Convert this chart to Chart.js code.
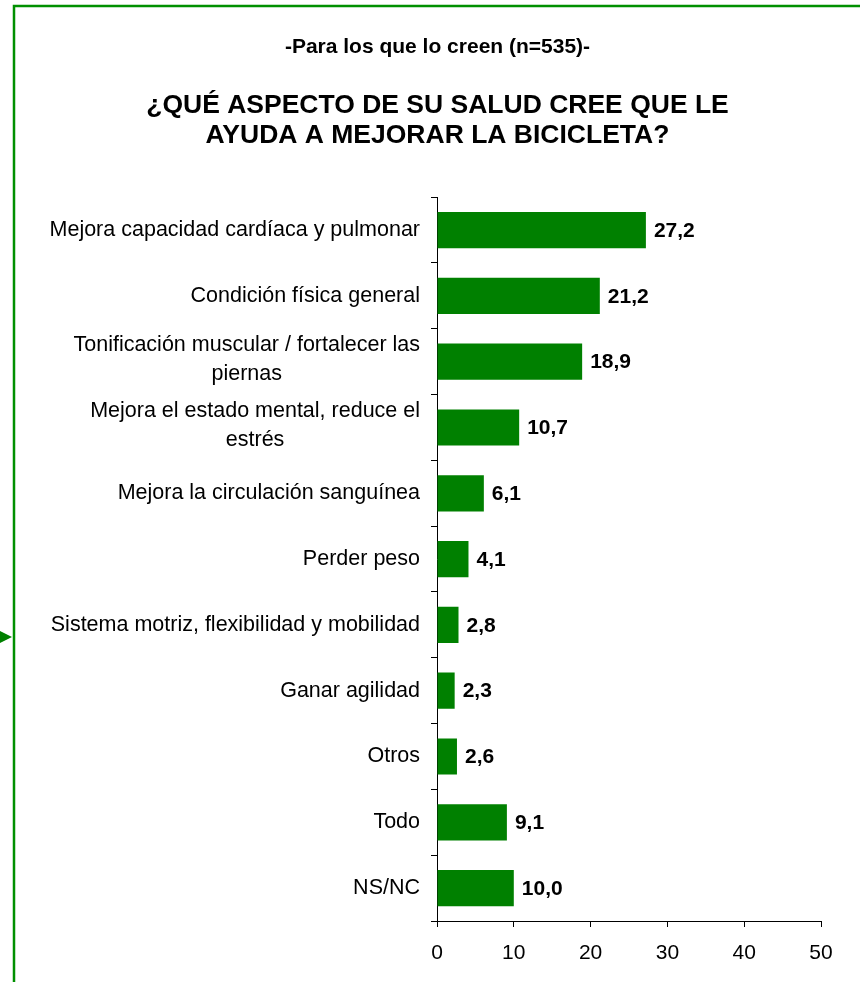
<!DOCTYPE html>
<html>
<head>
<meta charset="utf-8">
<script src="https://cdn.jsdelivr.net/npm/chart.js@4"></script>
<style>
  html, body { margin: 0; padding: 0; background: #fff; }
  #wrap { width: 860px; height: 982px; position: relative; }
</style>
</head>
<body>
<div id="wrap"><canvas id="grafico" width="860" height="982"></canvas></div>
<script>
// datos
const categorias = [
    "Mejora capacidad cardíaca y pulmonar",
    "Condición física general",
    ["Tonificación muscular / fortalecer las", "piernas"],
    ["Mejora el estado mental, reduce el", "estrés"],
    "Mejora la circulación sanguínea",
    "Perder peso",
    "Sistema motriz, flexibilidad y mobilidad",
    "Ganar agilidad",
    "Otros",
    "Todo",
    "NS/NC"
];
const porcentajes = [27.2, 21.2, 18.9, 10.7, 6.1, 4.1, 2.8, 2.3, 2.6, 9.1, 10.0];
const ticksX = [0, 10, 20, 30, 40, 50];

const FUENTE = "'Liberation Sans', Arial, sans-serif";
const VERDE = '#008000';

// marco verde y flecha del original
const marco = {
    id: 'marco',
    beforeDraw(chart) {
        const c = chart.ctx;
        c.save();
        c.strokeStyle = '#009000';
        c.lineWidth = 2.5;
        c.beginPath();
        c.moveTo(chart.width, 6);
        c.lineTo(14, 6);
        c.lineTo(14, chart.height);
        c.stroke();
        c.fillStyle = VERDE;
        c.beginPath();
        c.moveTo(0, 631);
        c.lineTo(12, 637);
        c.lineTo(0, 643);
        c.closePath();
        c.fill();
        c.restore();
    }
};

// etiquetas de categoría: bloque alineado a la derecha, líneas centradas
const categoriasEje = {
    id: 'categoriasEje',
    afterDraw(chart) {
        const c = chart.ctx;
        const s = chart.scales.y;
        c.save();
        c.font = "21.5px " + FUENTE;
        c.fillStyle = '#000';
        c.textAlign = 'center';
        c.textBaseline = 'middle';
        categorias.forEach((lab, i) => {
            const lineas = Array.isArray(lab) ? lab : [lab];
            const ancho = Math.max(...lineas.map(l => c.measureText(l).width));
            const cx = s.right - 17 - ancho / 2;
            const y0 = s.getPixelForTick(i) - 2 * (lineas.length - 1) - (lineas.length - 1) * 29 / 2;
            lineas.forEach((l, k) => c.fillText(l, cx, y0 + k * 29));
        });
        c.restore();
    }
};

// valores al final de cada barra
const etiquetas = {
    id: 'etiquetas',
    afterDatasetsDraw(chart) {
        const c = chart.ctx;
        const meta = chart.getDatasetMeta(0);
        c.save();
        c.font = "bold 21px " + FUENTE;
        c.fillStyle = '#000';
        c.textAlign = 'left';
        c.textBaseline = 'middle';
        meta.data.forEach((bar, i) => {
            c.fillText(porcentajes[i].toFixed(1).replace('.', ','), bar.x + 8, bar.y + 1);
        });
        c.restore();
    }
};

new Chart(document.getElementById('grafico'), {
    type: 'bar',
    data: {
        labels: categorias,
        datasets: [{
            data: porcentajes,
            backgroundColor: VERDE,
            borderWidth: 0,
            categoryPercentage: 1,
            barPercentage: 0.55
        }]
    },
    options: {
        indexAxis: 'y',
        responsive: false,
        animation: false,
        layout: { padding: { left: 54, right: 39, top: 0, bottom: 2 } },
        plugins: {
            legend: { display: false },
            tooltip: { enabled: false },
            title: {
                display: true,
                text: '-Para los que lo creen (n=535)-',
                color: '#000',
                font: { family: FUENTE, size: 21, weight: 'bold', lineHeight: 1.2 },
                padding: { top: 35, bottom: 0 }
            },
            subtitle: {
                display: true,
                text: ['¿QUÉ ASPECTO DE SU SALUD CREE QUE LE', 'AYUDA A MEJORAR LA BICICLETA?'],
                color: '#000',
                font: { family: FUENTE, size: 26.5, weight: 'bold', lineHeight: 1.132 },
                padding: { top: 30, bottom: 47 }
            }
        },
        scales: {
            x: {
                min: 0,
                max: 50,
                afterBuildTicks: s => { s.ticks = ticksX.map(v => ({ value: v })); },
                grid: { drawOnChartArea: false, drawTicks: true, tickLength: 6, color: '#000' },
                border: { display: true, color: '#000', width: 1 },
                ticks: { color: '#000', font: { family: FUENTE, size: 21, lineHeight: 1 }, padding: 16, maxRotation: 0 }
            },
            y: {
                afterFit: s => { s.width = 383; },
                grid: { drawOnChartArea: false, drawTicks: true, tickLength: 6, color: '#000', offset: true },
                border: { display: true, color: '#000', width: 1 },
                ticks: { display: false }
            }
        }
    },
    plugins: [marco, categoriasEje, etiquetas]
});
</script>
</body>
</html>
